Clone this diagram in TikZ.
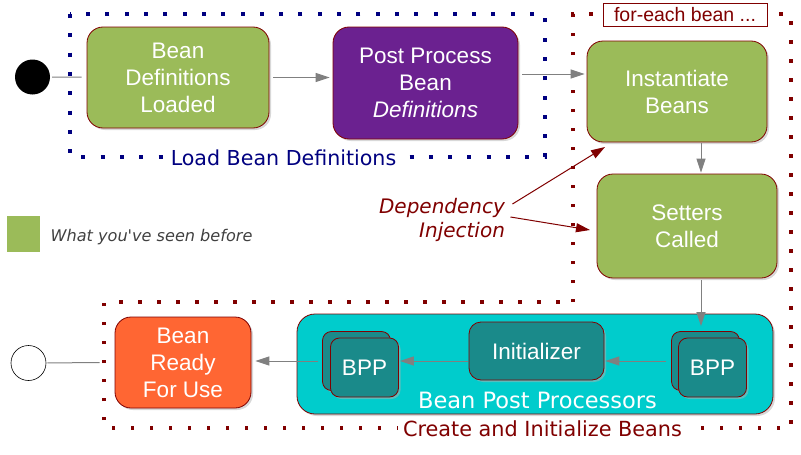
\documentclass[tikz,border=0pt]{standalone}
\usepackage{fontspec}
\setmainfont{Liberation Sans}
\newfontfamily\verdfont{DejaVu Sans}
\usetikzlibrary{arrows.meta,shadows,positioning}

\definecolor{beangreen}{HTML}{9BBB59}
\definecolor{ppurple}{HTML}{6B2190}
\definecolor{readyorange}{HTML}{FF6633}
\definecolor{bppcyan}{HTML}{00CCCC}
\definecolor{bppteal}{HTML}{1A8A8A}
\definecolor{edgered}{HTML}{800000}
\definecolor{framenavy}{HTML}{000080}
\definecolor{flowgray}{HTML}{808080}
\definecolor{legendgray}{HTML}{404040}

\begin{document}
\begin{tikzpicture}[x=1pt,y=-1pt,>={Triangle[length=14pt,width=9pt]},
    stage/.style={rectangle,rounded corners=16pt,draw=edgered,line width=0.8pt,
      text=white,align=center,font=\fontsize{22.5}{27}\selectfont,
      drop shadow={shadow xshift=2pt,shadow yshift=-2pt,fill=black!30}},
    bppbox/.style={stage,rounded corners=9pt,fill=bppteal,
      minimum width=68pt,minimum height=59pt},
    flow/.style={->,draw=flowgray,line width=1pt},
    plain/.style={draw=flowgray,line width=1pt},
    inject/.style={->,draw=edgered,line width=1pt},
    blueframe/.style={draw=framenavy,line width=4pt,dash pattern=on 4pt off 15.3pt},
    redframe/.style={draw=edgered,line width=3.5pt,dash pattern=on 3.5pt off 15.5pt},
    framelabel/.style={fill=white,inner xsep=5pt,inner ysep=1pt}]

  \useasboundingbox (0,0) rectangle (801,455);

  % dotted frames
  \draw[blueframe] (70,14) rectangle (545,157);
  \draw[redframe] (573,302) -- (573,14) -- (791,14) -- (791,428)
                  -- (104,428) -- (104,302) -- cycle;

  % states
  \node[circle,fill=black,minimum size=35pt,inner sep=0pt] (start) at (32.5,77) {};
  \node[stage,fill=beangreen,minimum width=182pt,minimum height=101pt] (loaded)
       at (178,77.5) {Bean\\Definitions\\Loaded};
  \node[stage,fill=ppurple,minimum width=185pt,minimum height=112pt] (post)
       at (425.5,83) {Post Process\\Bean\\\textit{Definitions}};
  \node[stage,fill=beangreen,minimum width=180pt,minimum height=101pt] (inst)
       at (677,91.5) {Instantiate\\Beans};
  \node[stage,fill=beangreen,minimum width=180pt,minimum height=104pt] (setters)
       at (687,226) {Setters\\Called};
  \node[stage,fill=bppcyan,rounded corners=18pt,minimum width=476pt,minimum height=100pt] (bpp)
       at (535,364) {};
  \node[stage,fill=bppteal,rounded corners=12pt,minimum width=135pt,minimum height=58pt] (init)
       at (536.5,351) {Initializer};
  \node[bppbox] (bppRback) at (705.5,361) {};
  \node[bppbox] (bppR) at (712.5,367.5) {BPP};
  \node[bppbox] (bppLback) at (356.5,361) {};
  \node[bppbox] (bppL) at (364.5,367.5) {BPP};
  \node[stage,fill=readyorange,minimum width=136pt,minimum height=91pt] (ready)
       at (183,362.5) {Bean\\Ready\\For Use};
  \node[circle,draw,line width=0.6pt,minimum size=35pt,inner sep=0pt] (stop) at (28.5,363) {};

  % labels
  \node[framelabel,text=framenavy,font=\verdfont\fontsize{20.6}{24}\selectfont] (loadlbl)
       at (283.5,158) {Load Bean Definitions};
  \node[framelabel,text=edgered,font=\verdfont\fontsize{20.8}{24}\selectfont] (createlbl)
       at (542.5,429) {Create and Initialize Beans};
  \node[font=\verdfont\fontsize{22.5}{26}\selectfont,text=white] (bpplbl)
       at (537.5,400) {Bean Post Processors};
  \node[draw=edgered,line width=0.8pt,fill=white,text=edgered,inner sep=0pt,
        minimum width=164pt,minimum height=23pt,font=\fontsize{19.5}{22}\selectfont] (foreach)
       at (685,14.5) {for-each bean ...};
  \node[font=\verdfont\itshape\fontsize{20}{24}\selectfont,text=edgered,align=right] (dep)
       at (442,220) {Dependency\\Injection};

  % legend
  \node[fill=beangreen,minimum width=33pt,minimum height=36pt,inner sep=0pt] (legend)
       at (23.5,234) {};
  \node[right=7pt of legend,yshift=-3pt,text=legendgray,
        font=\verdfont\itshape\fontsize{16.1}{18}\selectfont] (legendtxt) {What you've seen before};

  % transitions
  \draw[plain,shorten <=2pt,shorten >=5pt] (start) -- (loaded);
  \draw[flow,shorten <=4pt,shorten >=3pt] (loaded.east) -- (loaded.east -| post.west);
  \draw[flow,shorten <=4pt,shorten >=2pt] ([yshift=9pt]post.east) -- ([yshift=9pt]post.east -| inst.west);
  \draw[flow,shorten <=1pt,shorten >=1pt] ([xshift=24pt]inst.south) -- ([xshift=24pt]inst.south |- setters.north);
  \draw[flow,shorten <=2pt,shorten >=5pt] ([xshift=14pt]setters.south) -- ([xshift=14pt]setters.south |- bppRback.north);
  \draw[flow,shorten <=5pt,shorten >=1pt] (bppRback.west) -- (bppRback.west -| init.east);
  \draw[flow,shorten <=1pt,shorten >=1pt] (bppRback.west -| init.west) -- (bppRback.west -| bppL.east);
  \draw[flow,shorten <=4pt,shorten >=4pt] (bppLback.west) -- (bppLback.west -| ready.east);
  \draw[plain,shorten <=15pt,shorten >=1pt] (ready.west) -- (stop);

  % dependency injection
  \coordinate (dihit1) at (605,147);
  \coordinate (dihit2) at (590,230);
  \draw[inject] ([xshift=4pt,yshift=16pt]dep.east) -- (dihit1);
  \draw[inject] ([xshift=2pt,yshift=3pt]dep.east) -- (dihit2);
\end{tikzpicture}
\end{document}
